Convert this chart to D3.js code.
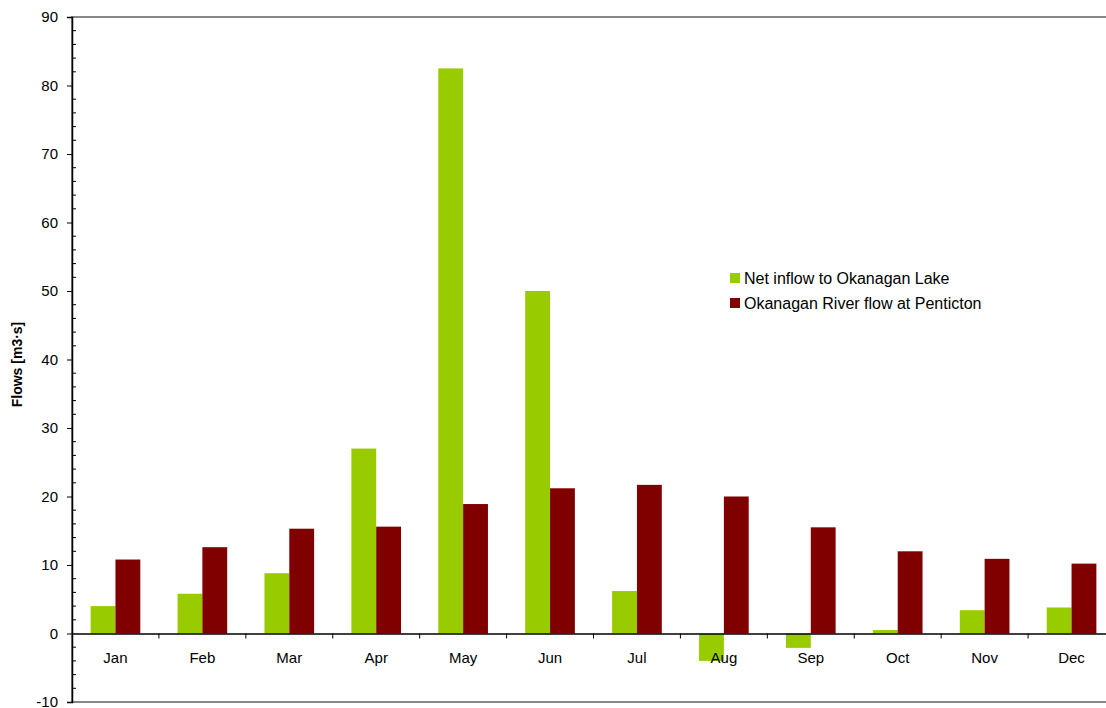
<!DOCTYPE html>
<html>
<head>
<meta charset="utf-8">
<script src="https://cdn.jsdelivr.net/npm/d3@7"></script>
<style>
  body { margin: 0; background: #fff; }
  svg { display: block; font-family: "Liberation Sans", Arial, sans-serif; }
</style>
</head>
<body>
<svg id="chart"></svg>
<script>
var months = ['Jan', 'Feb', 'Mar', 'Apr', 'May', 'Jun', 'Jul', 'Aug', 'Sep', 'Oct', 'Nov', 'Dec'];
var netInflow = [4.0, 5.8, 8.8, 27.0, 82.5, 50.0, 6.2, -4.0, -2.1, 0.5, 3.4, 3.8];
var riverFlow = [10.8, 12.6, 15.3, 15.6, 18.9, 21.2, 21.7, 20.0, 15.5, 12.0, 10.9, 10.2];
var seriesNames = ['Net inflow to Okanagan Lake', 'Okanagan River flow at Penticton'];
var colors = ['#99cc00', '#800000'];
var yTicks = [-10, 0, 10, 20, 30, 40, 50, 60, 70, 80, 90];

var width = 1106, height = 708;
var plotL = 72, plotR = 1115, plotT = 17, plotB = 702;

var svg = d3.select('#chart').attr('width', width).attr('height', height);

var x = d3.scaleBand().domain(months).range([plotL, plotR]);
var y = d3.scaleLinear().domain([-10, 90]).range([plotB, plotT]);
// excel style gap width 150%
var barW = x.bandwidth() / 3.5;
var gap = x.bandwidth() - 2 * barW;

var rows = months.map(function (m, i) { return { m: m, vals: [netInflow[i], riverFlow[i]] }; });

// plot area border
svg.append('rect')
  .attr('x', plotL).attr('y', plotT)
  .attr('width', plotR - plotL).attr('height', plotB - plotT)
  .attr('fill', 'none').attr('stroke', '#888').attr('stroke-width', 2);

var groups = svg.selectAll('g.month')
  .data(rows)
  .enter()
  .append('g')
  .attr('class', 'month');

groups.selectAll('rect')
  .data(function (d) { return d.vals.map(function (v, j) { return { m: d.m, v: v, j: j }; }); })
  .enter()
  .append('rect')
  .attr('x', function (d) { return x(d.m) + gap / 2 + d.j * barW; })
  .attr('y', function (d) { return y(Math.max(0, d.v)); })
  .attr('width', barW)
  .attr('height', function (d) { return Math.abs(y(d.v) - y(0)); })
  .attr('fill', function (d) { return colors[d.j]; });

// y axis: major ticks outside, minor ticks inside
var yAxis = svg.append('g')
  .attr('transform', 'translate(' + plotL + ',0)')
  .call(d3.axisLeft(y).tickValues(yTicks).tickSize(5).tickPadding(9).tickFormat(function (d) { return String(d); }));
yAxis.select('.domain').attr('stroke', '#000').attr('stroke-width', 1.5);
yAxis.selectAll('.tick line').attr('stroke', '#000');
yAxis.selectAll('.tick text').attr('font-size', '15px').attr('fill', '#000');

var minor = d3.range(-10, 90.1, 2).filter(function (v) { return v % 10 !== 0; });
svg.append('g').selectAll('line')
  .data(minor)
  .enter()
  .append('line')
  .attr('x1', plotL).attr('x2', plotL + 4)
  .attr('y1', function (d) { return y(d); })
  .attr('y2', function (d) { return y(d); })
  .attr('stroke', '#000');

// category axis at zero
var xAxis = svg.append('g')
  .attr('transform', 'translate(0,' + y(0) + ')')
  .call(d3.axisBottom(x).tickSize(0).tickPadding(19));
xAxis.select('.domain').attr('stroke', '#000').attr('stroke-width', 1.5);
xAxis.selectAll('.tick text').attr('font-size', '15px').attr('fill', '#000');

svg.append('g').selectAll('line')
  .data(months.slice(1))
  .enter()
  .append('line')
  .attr('x1', function (d) { return x(d); })
  .attr('x2', function (d) { return x(d); })
  .attr('y1', y(0)).attr('y2', y(0) + 5)
  .attr('stroke', '#000');

svg.append('text')
  .attr('transform', 'translate(22,' + ((plotT + plotB) / 2 + 5) + ') rotate(-90)')
  .attr('text-anchor', 'middle')
  .attr('font-size', '14px')
  .attr('font-weight', 'bold')
  .text('Flows [m3·s]');

// legend
var legend = svg.append('g').attr('transform', 'translate(730,273)');
var items = legend.selectAll('g')
  .data(seriesNames)
  .enter()
  .append('g')
  .attr('transform', function (d, i) { return 'translate(0,' + (i * 25) + ')'; });
items.append('rect').attr('width', 10).attr('height', 10)
  .attr('fill', function (d, i) { return colors[i]; });
items.append('text').attr('x', 14).attr('y', 11)
  .attr('font-size', '16px')
  .text(function (d) { return d; });
</script>
</body>
</html>
